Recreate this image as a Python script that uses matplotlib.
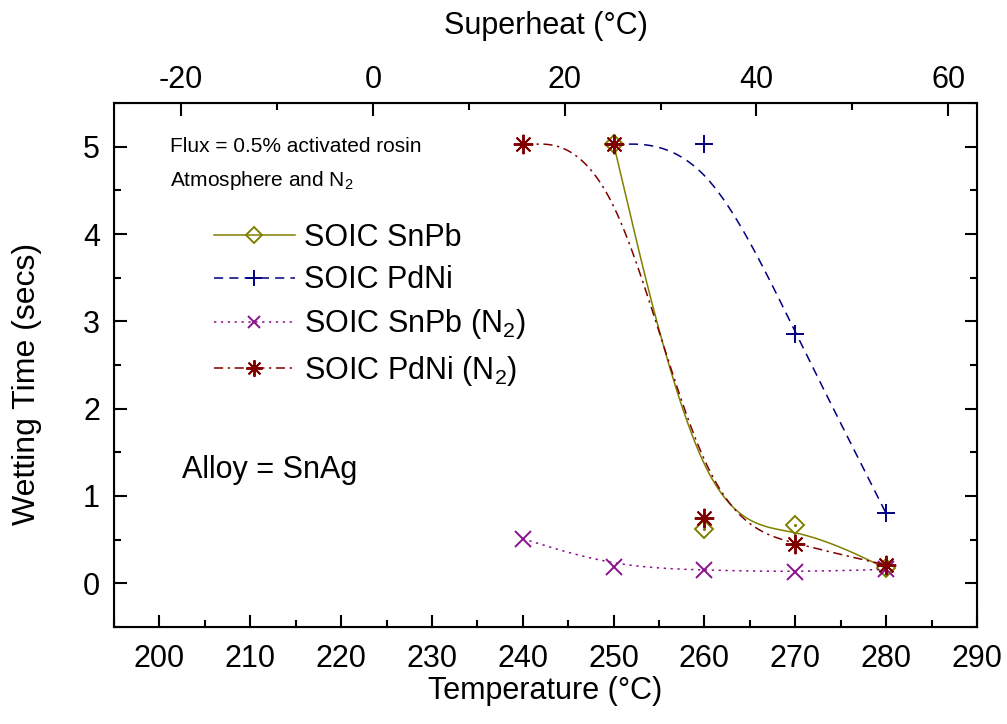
import numpy as np
import matplotlib
matplotlib.use("Agg")
import matplotlib.pyplot as plt
from matplotlib.ticker import MultipleLocator

plt.rcParams['font.family'] = ['Liberation Sans', 'DejaVu Sans']
plt.rcParams['mathtext.fontset'] = 'custom'
plt.rcParams['mathtext.rm'] = 'Liberation Sans'
plt.rcParams['mathtext.it'] = 'Liberation Sans'
plt.rcParams['mathtext.default'] = 'regular'
plt.rcParams['axes.unicode_minus'] = False

# data
temp_snpb = [250, 260, 270, 280]
wet_snpb = [5.03, 0.62, 0.67, 0.17]
temp_pdni = [250, 260, 270, 280]
wet_pdni = [5.03, 5.03, 2.86, 0.80]
temp_snpb_n2 = [240, 250, 260, 270, 280]
wet_snpb_n2 = [0.51, 0.19, 0.15, 0.13, 0.16]
temp_pdni_n2 = [240, 250, 260, 270, 280]
wet_pdni_n2 = [5.03, 5.03, 0.75, 0.45, 0.21]


def bspline(xs, ys, n=60):
    # uniform cubic B-spline, end points tripled so the curve starts/ends on them
    px = np.r_[[xs[0]] * 2, xs, [xs[-1]] * 2].astype(float)
    py = np.r_[[ys[0]] * 2, ys, [ys[-1]] * 2].astype(float)
    t = np.linspace(0, 1, n)
    b0 = (1 - t) ** 3 / 6
    b1 = (3 * t**3 - 6 * t**2 + 4) / 6
    b2 = (-3 * t**3 + 3 * t**2 + 3 * t + 1) / 6
    b3 = t**3 / 6
    cx, cy = [], []
    for i in range(len(px) - 3):
        cx.append(b0 * px[i] + b1 * px[i+1] + b2 * px[i+2] + b3 * px[i+3])
        cy.append(b0 * py[i] + b1 * py[i+1] + b2 * py[i+2] + b3 * py[i+3])
    return np.concatenate(cx), np.concatenate(cy)


fig = plt.figure(figsize=(10.07, 7.24), dpi=100)
ax = fig.add_axes([0.1132, 0.134, 0.857, 0.7237])

series = [
    (temp_snpb, wet_snpb, '#808000', '-', 'D', 9, 'SOIC SnPb'),
    (temp_pdni, wet_pdni, '#000080', (0, (6, 4)), '+', 13, 'SOIC PdNi'),
    (temp_snpb_n2, wet_snpb_n2, '#8b108b', (0, (1.5, 3)), 'x', 11, 'SOIC SnPb (N$_2$)'),
    (temp_pdni_n2, wet_pdni_n2, '#800000', (0, (6, 3, 1.5, 3)), (8, 2, 0), 14, 'SOIC PdNi (N$_2$)'),
]

handles = []
for xs, ys, c, ls, mk, ms, lab in series:
    sx, sy = bspline(xs, ys)
    ax.plot(sx, sy, color=c, ls=ls, lw=1.1)
    ax.plot(xs, ys, ls='none', marker=mk, ms=ms, mfc='none', mec=c, mew=1.4)
    if mk == 'D':
        ax.plot(xs, ys, ls='none', marker='.', ms=2.5, color=c)
    h, = ax.plot([], [], color=c, ls=ls, lw=1.1, marker=mk, ms=ms * 0.85,
                 mfc='none', mec=c, mew=1.4, label=lab)
    handles.append(h)

ax.set_xlim(195, 290)
ax.set_ylim(-0.5, 5.5)
ax.xaxis.set_major_locator(MultipleLocator(10))
ax.xaxis.set_minor_locator(MultipleLocator(5))
ax.yaxis.set_major_locator(MultipleLocator(1))
ax.yaxis.set_minor_locator(MultipleLocator(0.5))
ax.tick_params(which='both', direction='in', top=False, right=True,
               labelsize=22, width=1.5)
ax.tick_params(which='major', length=9, pad=12)
ax.tick_params(axis='y', which='major', pad=10)
ax.tick_params(which='minor', length=5)
for sp in ax.spines.values():
    sp.set_linewidth(1.5)
ax.set_xlabel('Temperature (°C)', fontsize=22, labelpad=2)
ax.set_ylabel('Wetting Time (secs)', fontsize=23)
ax.yaxis.set_label_coords(-0.083, 0.464)

top = ax.twiny()
top.set_xlim(-27, 63)
top.xaxis.set_major_locator(MultipleLocator(20))
top.xaxis.set_minor_locator(MultipleLocator(10))
top.tick_params(which='both', direction='in', labelsize=22, width=1.5)
top.tick_params(which='major', length=9, pad=6)
top.tick_params(which='minor', length=5)
top.set_xlabel('Superheat (°C)', fontsize=22, labelpad=22)


def fig_xy(px, py):
    return px / 1007, 1 - py / 724


fig.text(*fig_xy(170, 147), 'Flux = 0.5% activated rosin', fontsize=15,
         va='center', ha='left')
fig.text(*fig_xy(170, 180), 'Atmosphere and N$_2$', fontsize=15,
         va='center', ha='left')
fig.text(*fig_xy(182, 470), 'Alloy = SnAg', fontsize=22, va='center', ha='left')

ax.legend(handles=handles, loc='upper left', bbox_to_anchor=fig_xy(214, 223),
          bbox_transform=fig.transFigure,
          frameon=False, fontsize=22, numpoints=1, handlelength=2.65,
          handletextpad=0.3, labelspacing=0.4, borderpad=0, borderaxespad=0)

fig.savefig('out.png', dpi=100)
